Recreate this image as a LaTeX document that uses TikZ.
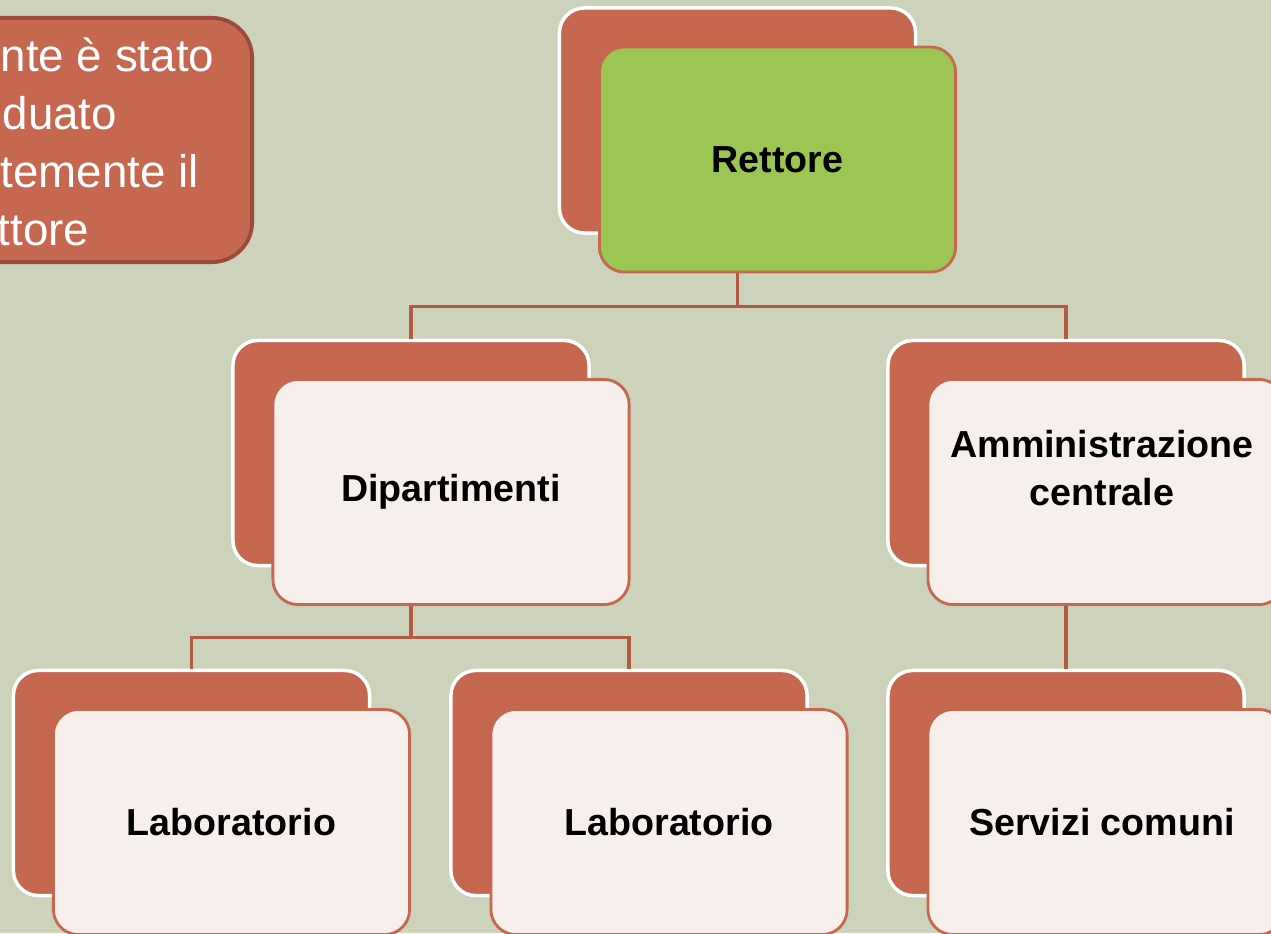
\documentclass[tikz,border=0pt]{standalone}
\usepackage{fontspec}
\setmainfont{Liberation Sans}
\usetikzlibrary{positioning}

\definecolor{sfondo}{HTML}{CCD3BA}
\definecolor{rosso}{HTML}{C5684F}
\definecolor{rossoscuro}{HTML}{9B4B3A}
\definecolor{verde}{HTML}{9BC654}
\definecolor{rosa}{HTML}{F7EFEC}
\definecolor{linea}{HTML}{B35A44}

\begin{document}
\begin{tikzpicture}[x=0.01cm, y=-0.01cm,
  dietro/.style={draw=white, line width=1pt, fill=rosso, rounded corners=0.25cm,
    minimum width=3.56cm, minimum height=2.25cm, inner sep=0pt},
  davanti/.style={draw=rosso, line width=0.8pt, fill=rosa, rounded corners=0.25cm,
    minimum width=3.56cm, minimum height=2.25cm, inner sep=0pt},
  conn/.style={draw=linea, line width=0.9pt},
  etichetta/.style={font=\fontsize{10.7}{13.7}\selectfont\bfseries, inner sep=0pt}]
\def\dx{40}
\def\dy{39}

\def\xa{191.5}
\def\xb{411}
\def\xc{629}
\def\xd{737.5}
\def\xe{1066}

\def\ya{120.5}
\def\yb{453}
\def\yc{783}

\useasboundingbox (0,0) rectangle (1271,933);
\clip (0,0) rectangle (1271,933);
\fill[sfondo] (0,0) rectangle (1271,933);

\node[draw=rossoscuro, line width=1.1pt, fill=rosso, rounded corners=0.4cm,
  minimum width=4.52cm, minimum height=2.44cm] (nota) at (26,140) {};
\node[anchor=base west, align=left, text=white, inner sep=0pt,
  font=\fontsize{13}{16.4}\selectfont] (notatesto) at (0,245)
  {nte è stato\\ \hspace{0.02cm}duato\\ temente il\\ \hspace{-0.03cm}ttore};

\node[dietro] (r0) at (\xd, \ya) {};
\node[dietro] (d0) at (\xb, \yb) {};
\node[dietro] (a0) at (\xe, \yb) {};
\node[dietro] (l0) at (\xa, \yc) {};
\node[dietro] (m0) at (\xc, \yc) {};
\node[dietro] (s0) at (\xe, \yc) {};

\draw[conn] (r0.south) -- ++(0,72) -| (d0.north);
\draw[conn] (r0.south) -- ++(0,72) -| (a0.north);
\draw[conn] (d0.south) -- ++(0,70) -| (l0.north);
\draw[conn] (d0.south) -- ++(0,70) -| (m0.north);
\draw[conn] (a0.south) -- (s0.north);

\node[davanti, fill=verde] (r1) at (\xd + \dx, \ya + \dy) {};
\node[davanti] (d1) at (\xb + \dx, \yb + \dy) {};
\node[davanti] (a1) at (\xe + \dx, \yb + \dy) {};
\node[davanti] (l1) at (\xa + \dx, \yc + \dy) {};
\node[davanti] (m1) at (\xc + \dx, \yc + \dy) {};
\node[davanti] (s1) at (\xe + \dx, \yc + \dy) {};

\node[etichetta] at (r1) {Rettore};
\node[etichetta] at (d1) {Dipartimenti};
\node[etichetta, align=center, yshift=0.24cm, xshift=-0.04cm] at (a1) {Amministrazione\\ centrale};
\node[etichetta] at (l1) {Laboratorio};
\node[etichetta] at (m1) {Laboratorio};
\node[etichetta, xshift=-0.04cm] at (s1) {Servizi comuni};

\end{tikzpicture}
\end{document}
